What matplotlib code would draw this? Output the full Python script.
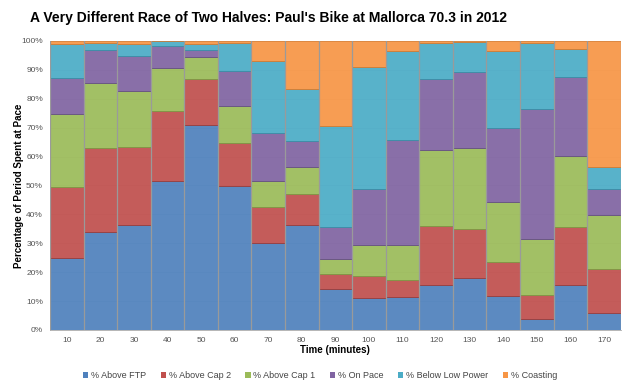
import numpy as np
import matplotlib
matplotlib.use('Agg')
import matplotlib.pyplot as plt
from matplotlib.patches import Patch

plt.rcParams['font.family'] = ['Liberation Sans', 'DejaVu Sans']

# data (percent of each 10-minute period)
minutes = [10, 20, 30, 40, 50, 60, 70, 80, 90, 100, 110, 120, 130, 140, 150, 160, 170]
above_ftp = [25.0, 33.8, 36.3, 51.7, 70.8, 49.7, 30.0, 36.2, 14.2, 11.0, 11.5, 15.5, 18.1, 11.8, 3.8, 15.5, 6.0]
above_cap2 = [24.4, 29.2, 27.1, 24.2, 16.2, 15.0, 12.7, 10.9, 5.2, 7.6, 5.9, 20.3, 17.0, 11.6, 8.3, 20.1, 15.0]
above_cap1 = [25.3, 22.4, 19.3, 14.6, 7.6, 12.8, 9.0, 9.3, 5.3, 10.9, 12.1, 26.5, 27.9, 21.0, 19.4, 24.7, 18.7]
on_pace = [12.6, 11.6, 12.0, 7.9, 2.1, 12.1, 16.3, 8.9, 10.9, 19.2, 36.1, 24.6, 26.2, 25.4, 44.9, 27.1, 9.0]
below_low = [11.5, 2.4, 4.1, 1.6, 2.3, 9.6, 25.2, 18.0, 35.1, 42.3, 30.8, 12.3, 10.3, 26.6, 23.0, 9.7, 7.7]
coasting = [1.2, 0.6, 1.2, 0.0, 1.0, 0.8, 6.8, 16.7, 29.3, 9.0, 3.6, 0.8, 0.5, 3.6, 0.6, 2.9, 43.6]

series = [
    ('% Above FTP', above_ftp, '#4F81BD', '#3c6a9e'),
    ('% Above Cap 2', above_cap2, '#C0504D', '#9b3a38'),
    ('% Above Cap 1', above_cap1, '#9BBB59', '#7d9a44'),
    ('% On Pace', on_pace, '#8064A2', '#644c84'),
    ('% Below Low Power', below_low, '#4BACC6', '#3890a8'),
    ('% Coasting', coasting, '#F79646', '#d97a2c'),
]

fig = plt.figure(figsize=(6.4, 3.9), dpi=100)
ax = fig.add_axes([0.078, 0.154, 0.892, 0.741])

x = np.arange(len(minutes))
bottom = np.zeros(len(minutes))
handles = []
for name, vals, col, edge in series:
    vals = np.array(vals)
    ax.bar(x, vals, width=1.0, bottom=bottom, color=col, alpha=0.93,
           edgecolor=edge, linewidth=0.6, zorder=2)
    bottom += vals
    handles.append(Patch(facecolor=col, edgecolor='none', label=name))

# gray separators between columns
for xi in x:
    ax.axvline(xi - 0.5, color='#9a9a9a', lw=0.9, zorder=3)
ax.axvline(x[-1] + 0.5, color='#9a9a9a', lw=0.9, zorder=3)

ax.set_xlim(-0.5, len(minutes) - 0.5)
ax.set_ylim(0, 100)
ax.set_yticks(np.arange(0, 101, 10))
ax.set_yticklabels([f'{v}%' for v in range(0, 101, 10)])
ax.set_xticks(x)
ax.set_xticklabels([str(m) for m in minutes])
ax.tick_params(length=0, labelsize=6, colors='#555555', pad=5)
ax.yaxis.grid(True, color='#dddddd', lw=0.6, zorder=0)
ax.set_axisbelow(True)
for s in ['top', 'right']:
    ax.spines[s].set_visible(False)
for s in ['left', 'bottom']:
    ax.spines[s].set_color('#aaaaaa')
    ax.spines[s].set_linewidth(0.6)

ax.set_xlabel('Time (minutes)', fontsize=7, fontweight='bold', labelpad=1)
ax.set_ylabel('Percentage of Period Spent at Pace', fontsize=7, fontweight='bold', labelpad=-2)

fig.text(0.047, 0.955, "A Very Different Race of Two Halves: Paul's Bike at Mallorca 70.3 in 2012",
         fontsize=10, fontweight='bold', ha='left', va='center')

fig.legend(handles=handles, loc='center', bbox_to_anchor=(0.5, 0.036), ncol=6,
           frameon=False, fontsize=6.5, handlelength=0.6, handleheight=0.6,
           handletextpad=0.3, columnspacing=1.6, labelcolor='#444444')

fig.savefig('out.png', dpi=100)
